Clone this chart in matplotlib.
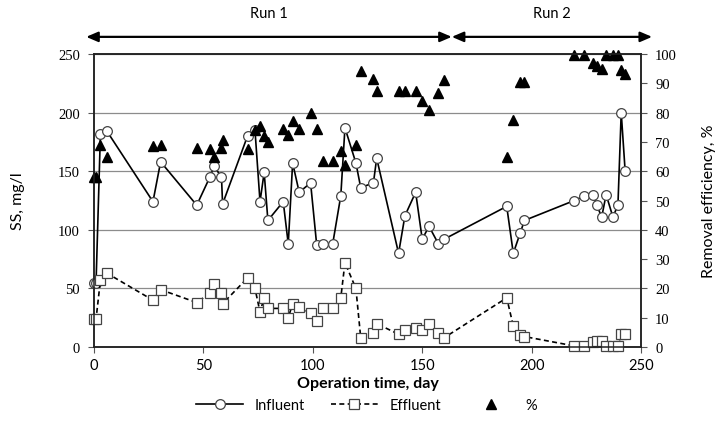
import numpy as np
import matplotlib.pyplot as plt
import matplotlib.transforms as mtransforms

# sampling days (shared by all three series)
days = [0, 1, 3, 6, 27, 30.5, 47, 53, 55, 58.3, 58.8, 70.2, 73.6, 75.9, 77.8, 79.5,
        86.5, 88.8, 90.8, 93.8, 99, 101.8, 104.5, 109.1, 112.8, 114.7, 119.7, 121.9,
        127.7, 129.2, 139.2, 142.1, 147, 150, 153.1, 157.4, 160,
        188.6, 191.6, 194.7, 196.7, 219.5, 224.1, 227.9, 229.7, 232, 234, 237.1,
        239.4, 240.9, 242.7]

influent = [55, 55, 182, 184, 124, 158, 121, 145, 154, 145, 122, 180, 185, 124, 149, 108,
            124, 88, 157, 132, 140, 87, 88, 88, 129, 187, 157, 136,
            140, 161, 80, 112, 132, 92, 103, 88, 92,
            120, 80, 97, 108, 125, 129, 130, 121, 111, 130, 111,
            121, 200, 150]

effluent = [24, 24, 57, 63, 40, 49, 38, 46, 54, 46, 37, 59, 50, 30, 42, 33,
            33, 25, 37, 34, 29, 22, 33, 33, 42, 72, 50, 8,
            12, 20, 11, 15, 16, 15, 20, 12, 8,
            42, 18, 10, 9, 1, 1, 4.5, 5, 5, 1, 1,
            1, 11, 11]

removal = [58, 58, 69, 65, 68.5, 69, 68, 67.5, 65, 68, 70.5, 67.5, 74, 75.5, 72, 70,
           74.5, 72.5, 77, 74.5, 80, 74.5, 63.5, 63.5, 67, 62, 69, 94,
           91.5, 87.5, 87.5, 87.5, 87.5, 84, 81, 86.5, 91,
           65, 77.5, 90.5, 90.5, 99.5, 99.5, 97, 96, 95, 99.5, 99.5,
           99.5, 94.5, 93]

runs = ["Run 1", "Run 2"]
run_bounds = [(-3.5, 163.5), (163.5, 255)]

sans = "Lato"
serif = "Liberation Serif"

fig = plt.figure(figsize=(7.22, 4.39), dpi=100)
ax1 = fig.add_axes([0.130, 0.207, 0.758, 0.668])
ax2 = ax1.twinx()

l1, = ax1.plot(days, influent, color="black", lw=1.2, marker="o", ms=7,
               mfc="white", mec="#444444", mew=0.9, label="Influent", zorder=3, clip_on=False)
l2, = ax1.plot(days, effluent, color="black", lw=1.2, ls=(0, (3, 2)), marker="s", ms=7,
               mfc="white", mec="#444444", mew=0.9, label="Effluent", zorder=3, clip_on=False)
l3, = ax2.plot(days, removal, ls="none", marker="^", ms=7, color="black", label="%",
               clip_on=False)

ax1.set_xlim(0, 250)
ax1.set_ylim(0, 250)
ax2.set_ylim(0, 100)
ax1.set_xticks(np.arange(0, 251, 50))
ax1.set_yticks(np.arange(0, 251, 50))
ax2.set_yticks(np.arange(0, 101, 10))

ax1.yaxis.grid(True, color="#8c8c8c", lw=0.9)
ax1.set_axisbelow(True)

for ax in (ax1, ax2):
    for s in ax.spines.values():
        s.set_linewidth(1.1)
        s.set_color("#222222")
    ax.tick_params(direction="out", length=4, width=0.8, color="#555555")

for lab in ax1.get_yticklabels() + ax2.get_yticklabels():
    lab.set_fontfamily(serif)
    lab.set_fontsize(10.5)
for lab in ax1.get_xticklabels():
    lab.set_fontfamily(sans)
    lab.set_fontsize(10.5)
ax1.tick_params(axis="x", pad=4)
ax1.tick_params(axis="y", pad=6)
ax2.tick_params(axis="y", pad=6)

ax1.set_xlabel("Operation time, day", fontfamily=sans, fontsize=11.5, fontweight="bold", labelpad=3)
ax1.set_ylabel("SS, mg/l", fontfamily=sans, fontsize=11.5, labelpad=24)
ax2.set_ylabel("Removal efficiency, %", fontfamily=sans, fontsize=11.5, labelpad=18)

# run arrows above the plot
trans = mtransforms.blended_transform_factory(ax1.transData, ax1.transAxes)
for name, (x0, x1) in zip(runs, run_bounds):
    ax1.annotate("", xy=(x1, 1.058), xytext=(x0, 1.058), xycoords=trans, textcoords=trans,
                 arrowprops=dict(arrowstyle="<|-|>,head_length=0.7,head_width=0.3",
                                 color="black", lw=1.6, shrinkA=0, shrinkB=0),
                 annotation_clip=False)
    ax1.text((x0 + x1) / 2, 1.14, name, transform=trans, ha="center", va="center",
             fontfamily=sans, fontsize=10.5)

fig.legend([l1, l2, l3], ["Influent", "Effluent", "%"], loc="center",
           bbox_to_anchor=(0.508, 0.075), ncol=3, frameon=False, handlelength=3.2,
           columnspacing=1.8, prop={"family": sans, "size": 10.5})

fig.savefig("out.png", dpi=100)
